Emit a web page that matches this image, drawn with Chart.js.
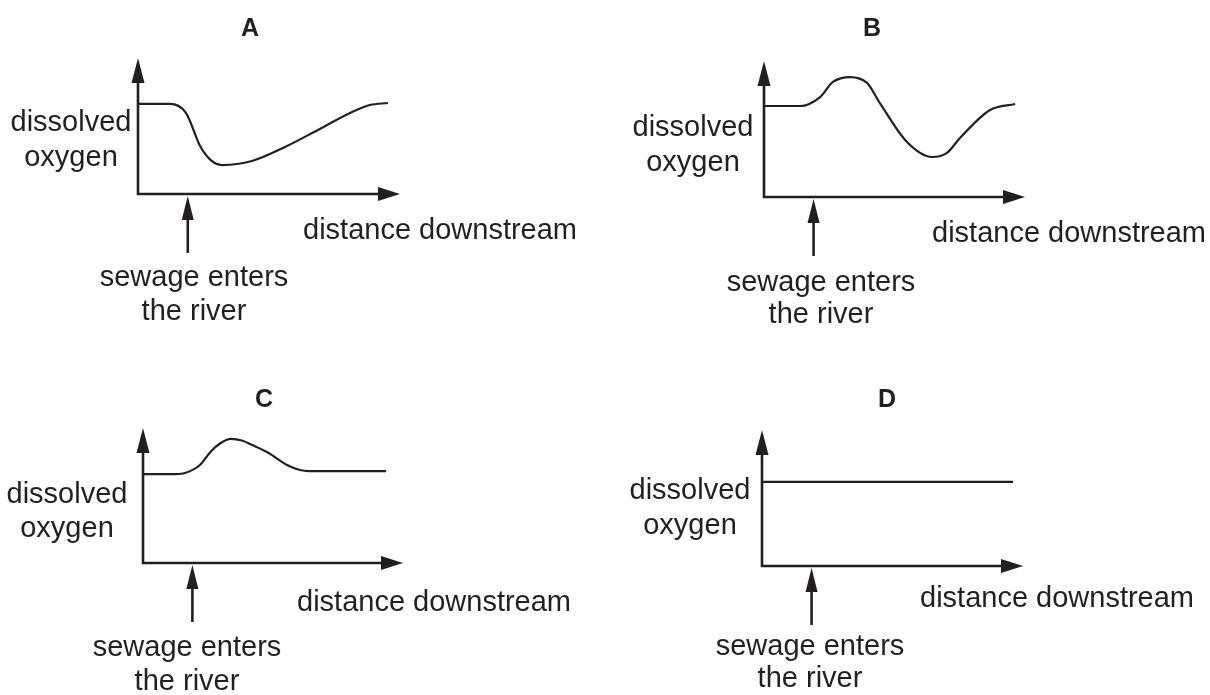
<!DOCTYPE html>
<html>
<head>
<meta charset="utf-8">
<script src="https://cdn.jsdelivr.net/npm/chart.js@4.4.1/dist/chart.umd.min.js"></script>
<style>
  html, body { margin: 0; padding: 0; background: #fff; }
  #page { position: relative; width: 1210px; height: 695px; overflow: hidden; }
  canvas { position: absolute; }
  .lbl { position: absolute; white-space: nowrap; font-family: "Liberation Sans", Arial, sans-serif; color: #231f20; line-height: 1; }
</style>
</head>
<body>
<div id="page"></div>
<script>
// distance downstream and dissolved oxygen, both 0..100 (arrow tip = 100)
let distA = [0, 12.2, 18.3, 23.7, 28, 32.1, 43.5, 56.1, 68.7, 81.7, 88.5, 95.4];
let oxygenA = [66.2, 66.2, 59.6, 35.3, 24.5, 21.3, 24.3, 34.6, 47.1, 60.3, 65.4, 66.9];

let distB = [0, 13.8, 21.5, 26.4, 33, 39.5, 44.4, 54.8, 64.4, 70.1, 75.1, 86.6, 96.2];
let oxygenB = [66.9, 66.9, 73.5, 84.6, 88.2, 83.8, 69.1, 40.4, 29.4, 32.4, 43.4, 64, 68.4];

let distC = [0, 12.3, 16.2, 21.9, 26.1, 29.6, 33.8, 38, 42, 47.7, 55.4, 60.4, 63.5, 75.8, 93.5];
let oxygenC = [65.9, 65.9, 66.7, 72.6, 82.6, 88.5, 91.9, 90.7, 87.4, 82.2, 72.6, 68.9, 68.1, 68.1, 68.1];

let distD = [0, 96.2];
let oxygenD = [61.8, 61.8];

let sewageAt = 19;
let panelNames = ['A', 'B', 'C', 'D'];

const ink = '#231f20';

// where each panel sits on the page, and where its axes start / end
let panels = [
    { name: panelNames[0], dist: distA, oxygen: oxygenA, left: 0, top: 0, w: 605, h: 347,
      ax: { x0: 138, y0: 194, x1: 400, y1: 58 },
      title: [250, 36], dissolved: [71, 132, 167], distance: [303, 240], sewage: [194, 287, 321] },
    { name: panelNames[1], dist: distB, oxygen: oxygenB, left: 605, top: 0, w: 605, h: 347,
      ax: { x0: 764, y0: 197, x1: 1025, y1: 61 },
      title: [872, 36], dissolved: [693, 137, 172], distance: [932, 243], sewage: [821, 292, 324] },
    { name: panelNames[2], dist: distC, oxygen: oxygenC, left: 0, top: 347, w: 605, h: 348,
      ax: { x0: 143, y0: 563, x1: 403, y1: 428 },
      title: [264, 407], dissolved: [67, 504, 538], distance: [297, 612], sewage: [187, 657, 691] },
    { name: panelNames[3], dist: distD, oxygen: oxygenD, left: 605, top: 347, w: 605, h: 348,
      ax: { x0: 762, y0: 566, x1: 1023, y1: 430 },
      title: [887, 407], dissolved: [690, 500, 535], distance: [920, 608], sewage: [810, 656, 688] }
];

let page = document.getElementById('page');

function label(text, x, baseline, opts) {
    opts = opts || {};
    let size = opts.size || 29;
    let d = document.createElement('div');
    d.className = 'lbl';
    d.textContent = text;
    d.style.fontSize = size + 'px';
    if (opts.bold) d.style.fontWeight = 'bold';
    d.style.top = (baseline - 0.8465 * size) + 'px';
    d.style.left = x + 'px';
    if (opts.center) d.style.transform = 'translateX(-50%)';
    page.appendChild(d);
}

function head(ctx, tx, ty, dx, dy, len, half) {
    let bx = tx - dx * len, by = ty - dy * len;
    ctx.beginPath();
    ctx.moveTo(tx, ty);
    ctx.lineTo(bx - dy * half, by + dx * half);
    ctx.lineTo(bx + dy * half, by - dx * half);
    ctx.closePath();
    ctx.fill();
}

let arrowAxes = {
    id: 'arrowAxes',
    afterDatasetsDraw(chart) {
        let ctx = chart.ctx, a = chart.chartArea;
        ctx.save();
        ctx.strokeStyle = ink;
        ctx.fillStyle = ink;
        ctx.lineWidth = 2.6;
        ctx.lineJoin = 'miter';
        ctx.beginPath();
        ctx.moveTo(a.left, a.top + 20);
        ctx.lineTo(a.left, a.bottom);
        ctx.lineTo(a.right - 18, a.bottom);
        ctx.stroke();
        head(ctx, a.left, a.top, 0, -1, 25, 6.5);
        head(ctx, a.right, a.bottom, 1, 0, 22, 7);

        // sewage enters the river
        let sx = chart.scales.x.getPixelForValue(sewageAt);
        ctx.beginPath();
        ctx.moveTo(sx, a.bottom + 59);
        ctx.lineTo(sx, a.bottom + 20);
        ctx.stroke();
        head(ctx, sx, a.bottom + 2, 0, -1, 24, 6);
        ctx.restore();
    }
};

panels.forEach(function(p) {
    let cv = document.createElement('canvas');
    cv.width = p.w;
    cv.height = p.h;
    cv.style.left = p.left + 'px';
    cv.style.top = p.top + 'px';
    page.appendChild(cv);

    new Chart(cv.getContext('2d'), {
        type: 'line',
        data: {
            datasets: [{
                data: p.dist.map((d, i) => ({ x: d, y: p.oxygen[i] })),
                borderColor: ink,
                borderWidth: 2.2,
                pointRadius: 0,
                cubicInterpolationMode: 'monotone',
                clip: false,
                fill: false
            }]
        },
        options: {
            responsive: false,
            animation: false,
            events: [],
            layout: {
                padding: {
                    left: p.ax.x0 - p.left,
                    top: p.ax.y1 - p.top,
                    right: p.w - (p.ax.x1 - p.left),
                    bottom: p.h - (p.ax.y0 - p.top)
                }
            },
            plugins: { legend: { display: false }, tooltip: { enabled: false } },
            scales: {
                x: { type: 'linear', min: 0, max: 100, display: false },
                y: { min: 0, max: 100, display: false }
            }
        },
        plugins: [arrowAxes]
    });

    label(p.name, p.title[0], p.title[1], { bold: true, size: 25, center: true });
    label('dissolved', p.dissolved[0], p.dissolved[1], { center: true });
    label('oxygen', p.dissolved[0], p.dissolved[2], { center: true });
    label('distance downstream', p.distance[0], p.distance[1]);
    label('sewage enters', p.sewage[0], p.sewage[1], { center: true });
    label('the river', p.sewage[0], p.sewage[2], { center: true });
});
</script>
</body>
</html>
